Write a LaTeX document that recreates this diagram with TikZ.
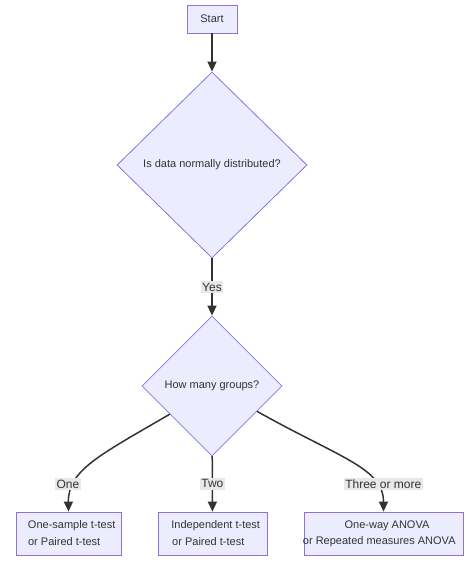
\documentclass[tikz,border=0pt]{standalone}
\usepackage{fontspec}
\setmainfont{Liberation Sans}
\usetikzlibrary{shapes.geometric,arrows.meta,calc}
\definecolor{nodefill}{HTML}{ECECFF}
\definecolor{nodeborder}{HTML}{9370DB}
\definecolor{edgecol}{HTML}{333333}
\definecolor{lblbg}{HTML}{E8E8E8}
\begin{document}
\begin{tikzpicture}[x=1pt,y=-1pt,
  font=\fontsize{11}{13}\selectfont,
  box/.style={draw=nodeborder, fill=nodefill, line width=0.8pt, inner sep=0pt, text=edgecol},
  dec/.style={diamond, draw=nodeborder, fill=nodefill, line width=0.8pt, inner sep=0pt, text=edgecol},
  txt/.style={inner sep=0pt, text=edgecol},
  edge/.style={draw=edgecol, line width=1.5pt, -{Triangle[length=10pt,width=9pt]}},
  lbl/.style={fill=lblbg, inner sep=1.5pt, text=edgecol, font=\fontsize{12}{14}\selectfont}]
\fill[white] (0,0) rectangle (474,565);
\useasboundingbox (0,0) rectangle (474,565);
\node[box, minimum width=50pt, minimum height=28pt] (start) at (212,19) {Start};
\node[dec, aspect=1.02, minimum width=190pt, minimum height=186pt] (d1) at (212,165) {Is data normally distributed?};
\node[dec, aspect=1, minimum width=140pt, minimum height=140pt] (d2) at (212,386) {How many groups?};
\node[box, minimum width=105pt, minimum height=43pt] (r1) at (68.5,533.5) {};
\node[box, minimum width=109pt, minimum height=43pt] (r2) at (212.5,533.5) {};
\node[box, minimum width=159pt, minimum height=43pt] (r3) at (383.5,533.5) {};
\node[txt] (r1a) at (71.7,525.7) {One-sample t-test};
\node[txt] (r1b) at (64.2,541.7) {or Paired t-test};
\node[txt] (r2a) at (215.7,525.7) {Independent t-test};
\node[txt] (r2b) at (208.3,541.7) {or Paired t-test};
\node[txt] (r3a) at (387,525.7) {One-way ANOVA};
\node[txt] (r3b) at (379.3,541.7) {or Repeated measures ANOVA};
\draw[edge] (start) -- (d1);
\draw[edge] (d1) -- node[lbl] (lyes) {Yes} (d2);
\draw[edge] (d2) -- node[lbl] (ltwo) {Two} (r2);
\coordinate (s1) at ($(d2.west)!0.4!(d2.south)$);
\coordinate (s3) at ($(d2.east)!0.36!(d2.south)$);
\draw[edge] (s1) .. controls (100,455) and (68,470) .. (r1.north);
\draw[edge] (s3) .. controls (340,458) and (383.5,468) .. (r3.north);
\node[lbl] (lone) at (68,484) {One};
\node[lbl] (lthree) at (383.3,484) {Three or more};
\end{tikzpicture}
\end{document}
